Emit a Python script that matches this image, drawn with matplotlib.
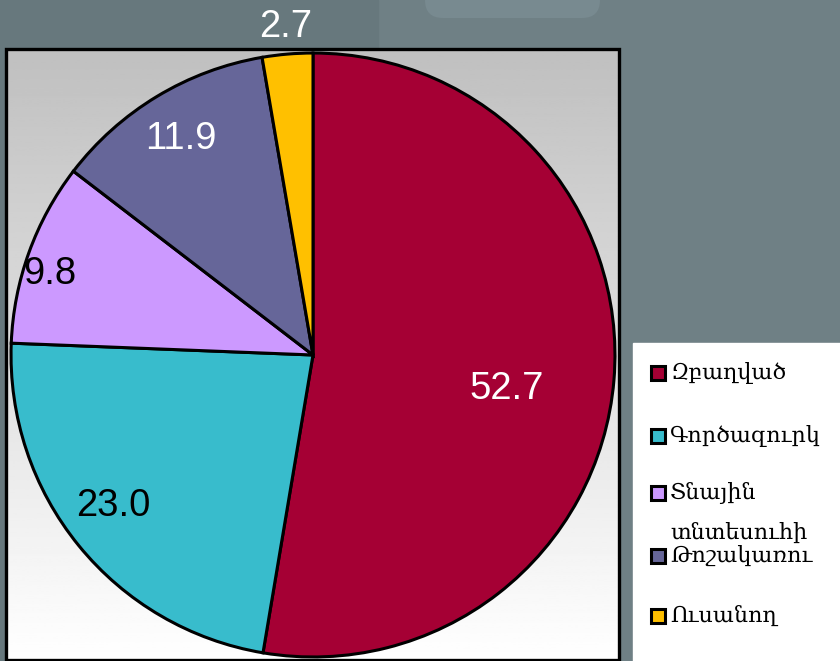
import matplotlib
matplotlib.use("Agg")
import matplotlib.pyplot as plt
import numpy as np
from matplotlib.patches import Rectangle, FancyBboxPatch

# Data
categories = ["Զբաղված", "Գործազուրկ", "Տնային\nտնտեսուհի", "Թոշակառու", "Ուսանող"]
shares = [52.7, 23.0, 9.8, 11.9, 2.7]
colors = ["#a50034", "#38bccc", "#cc99ff", "#666699", "#ffc000"]
label_colors = ["white", "black", "black", "white", "white"]
# label placement: radius (fraction of pie radius) and angle nudge (deg)
label_radius = [0.65, 0.83, 0.91, 0.84, 1.09]
label_nudge = [-5.3, -2.0, 2.8, 0.4, 0.0]

W, H = 840, 661
fig = plt.figure(figsize=(W / 100, H / 100), dpi=100)


def px_box(x0, y0, x1, y1):
    # pixel box (top-left origin) -> figure fraction rect
    return [x0 / W, 1 - y1 / H, (x1 - x0) / W, (y1 - y0) / H]


# slide background
bg = fig.add_axes([0, 0, 1, 1])
bg.set_xlim(0, W)
bg.set_ylim(H, 0)
bg.axis("off")
bg.add_patch(Rectangle((0, 0), W, H, color="#6f8085", zorder=0))
bg.add_patch(Rectangle((0, 0), 378, H, color="#67787d", zorder=1))
bg.add_patch(FancyBboxPatch((425, -30), 175, 48, boxstyle="round,pad=0,rounding_size=18",
                            color="#788a90", lw=0, zorder=1))

# plot area with vertical gray gradient
grad = np.linspace(0.75, 1.0, 256).reshape(-1, 1)
bg.imshow(grad, cmap="gray", vmin=0, vmax=1, extent=(6, 619, 660, 49),
          aspect="auto", zorder=2)
bg.add_patch(Rectangle((6, 49), 613, 611, fill=False, ec="black", lw=2.4, zorder=3))

# legend box
bg.add_patch(Rectangle((633, 343), 220, 330, color="white", zorder=2))

# pie
ax = fig.add_axes(px_box(8, 50, 618, 660))
wedges, _ = ax.pie(shares, colors=colors, startangle=90, counterclock=False,
                   wedgeprops=dict(edgecolor="black", linewidth=2.2))
ax.set_xlim(-1.01, 1.01)
ax.set_ylim(-1.01, 1.01)
ax.set_aspect("equal")

for w, val, col, r, nudge in zip(wedges, shares, label_colors, label_radius, label_nudge):
    ang = np.deg2rad((w.theta1 + w.theta2) / 2 + nudge)
    ax.text(r * np.cos(ang), r * np.sin(ang), f"{val:.1f}", color=col,
            fontsize=27.5, family="Liberation Sans", ha="center", va="center",
            clip_on=False)

# manual legend
entry_y = [373, 436, 493, 556, 616]
for name, col, y in zip(categories, colors, entry_y):
    bg.add_patch(Rectangle((651, y - 7), 14, 14, fc=col, ec="black", lw=2.2, zorder=4))
    lines = name.split("\n")
    bg.text(670, y, lines[0], fontsize=16, family="DejaVu Serif",
            va="center", ha="left", zorder=5)
    if len(lines) > 1:
        bg.text(670, y + 40, lines[1], fontsize=16, family="DejaVu Serif",
                va="center", ha="left", zorder=5)

fig.savefig("out.png", dpi=100)
